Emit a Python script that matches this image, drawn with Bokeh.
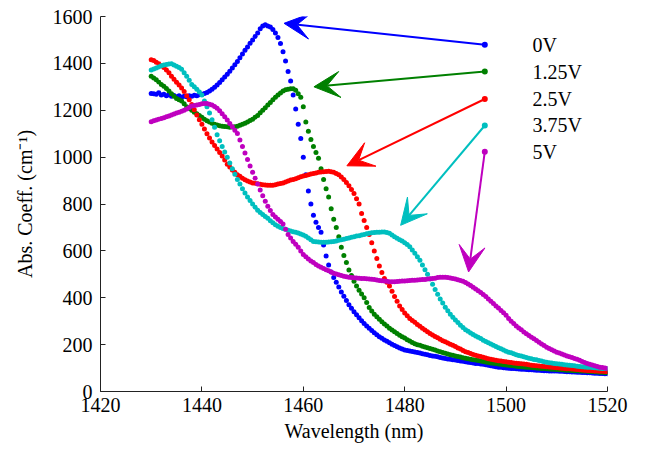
from bokeh.plotting import figure
from bokeh.models import Range1d, FixedTicker, Arrow, VeeHead
from bokeh.core.properties import value
from bokeh.embed import file_html
from bokeh.resources import INLINE

# ---------------- data ----------------
wavelength = [1430 + 0.5 * i for i in range(181)]  # nm, 0.5 nm sampling 1430..1520

abs_0V = [
    1272, 1270, 1268, 1275, 1265, 1268, 1262, 1266, 1260, 1263,
    1258, 1262, 1256, 1260, 1258, 1262, 1260, 1264, 1262, 1266,
    1268, 1272, 1276, 1282, 1290, 1298, 1308, 1318, 1330, 1342,
    1354, 1366, 1380, 1394, 1408, 1424, 1440, 1456, 1470, 1486,
    1500, 1515, 1530, 1548, 1560, 1565, 1560, 1555, 1545, 1530,
    1510, 1485, 1450, 1410, 1365, 1325, 1265, 1205, 1140, 1080,
    1000, 925, 855, 800, 752, 722, 700, 680, 625, 578,
    540, 510, 486, 466, 446, 425, 406, 388, 370, 355,
    340, 327, 315, 302, 290, 280, 270, 260, 251, 242,
    234, 227, 220, 214, 208, 202, 196, 191, 186, 181,
    177, 175, 173, 171, 169, 166, 164, 161, 159, 157,
    154, 152, 150, 148, 145, 143, 141, 139, 138, 136,
    134, 132, 130, 129, 127, 125, 124, 122, 120, 119,
    117, 116, 114, 112, 110, 108, 106, 104, 103, 101,
    100, 99, 98, 98, 97, 96, 95, 95, 94, 93,
    93, 92, 91, 91, 90, 89, 89, 88, 88, 87,
    87, 86, 86, 85, 84, 84, 83, 83, 82, 82,
    81, 81, 80, 80, 79, 78, 78, 77, 77, 76,
    76]

abs_125V = [
    1345, 1338, 1330, 1320, 1310, 1302, 1293, 1282, 1270, 1260,
    1250, 1245, 1240, 1228, 1215, 1208, 1200, 1192, 1185, 1178,
    1170, 1162, 1155, 1150, 1145, 1140, 1137, 1134, 1132, 1131,
    1130, 1128, 1129, 1130, 1132, 1136, 1140, 1145, 1150, 1156,
    1162, 1170, 1178, 1189, 1200, 1211, 1222, 1233, 1245, 1255,
    1265, 1274, 1282, 1287, 1290, 1292, 1292, 1285, 1270, 1255,
    1215, 1150, 1110, 1075, 1045, 1020, 995, 950, 905, 865,
    830, 780, 735, 700, 660, 615, 580, 550, 518, 495,
    470, 450, 432, 416, 400, 380, 358, 344, 330, 319,
    308, 298, 288, 279, 270, 262, 255, 247, 240, 234,
    228, 221, 215, 209, 204, 200, 197, 193, 190, 187,
    184, 180, 177, 173, 170, 166, 163, 160, 157, 155,
    152, 149, 147, 144, 142, 140, 138, 136, 134, 132,
    130, 128, 126, 124, 122, 121, 119, 117, 116, 114,
    113, 112, 111, 110, 108, 107, 106, 105, 104, 103,
    102, 101, 100, 99, 98, 98, 97, 96, 95, 95,
    94, 93, 93, 92, 91, 91, 90, 89, 89, 88,
    87, 87, 86, 85, 85, 84, 83, 82, 82, 81,
    80]

abs_25V = [
    1415, 1412, 1405, 1398, 1390, 1382, 1372, 1360, 1345, 1332,
    1320, 1308, 1295, 1280, 1262, 1245, 1225, 1202, 1180, 1160,
    1140, 1120, 1100, 1082, 1065, 1050, 1035, 1020, 1005, 988,
    970, 958, 945, 935, 925, 918, 910, 904, 898, 894,
    890, 888, 886, 884, 882, 881, 880, 880, 880, 882,
    885, 887, 890, 894, 898, 902, 905, 908, 912, 916,
    920, 922, 925, 928, 930, 932, 935, 937, 938, 939,
    940, 938, 935, 930, 925, 915, 905, 892, 878, 862,
    845, 822, 800, 760, 730, 700, 670, 635, 600, 568,
    535, 508, 482, 466, 450, 428, 405, 385, 365, 350,
    335, 323, 312, 303, 295, 286, 278, 270, 262, 255,
    248, 241, 235, 229, 223, 217, 212, 207, 202, 197,
    192, 186, 181, 175, 170, 166, 162, 158, 155, 152,
    149, 146, 143, 140, 138, 135, 133, 131, 130, 128,
    127, 125, 124, 122, 121, 120, 118, 117, 116, 114,
    112, 111, 110, 109, 108, 107, 106, 105, 104, 102,
    101, 100, 99, 98, 97, 97, 96, 95, 94, 93,
    92, 91, 90, 90, 89, 88, 87, 86, 86, 85,
    84]

abs_375V = [
    1372, 1376, 1380, 1385, 1390, 1393, 1395, 1397, 1398, 1393,
    1388, 1382, 1375, 1360, 1345, 1328, 1310, 1300, 1290, 1278,
    1265, 1240, 1215, 1188, 1160, 1128, 1095, 1070, 1045, 1022,
    1000, 975, 950, 927, 905, 885, 865, 847, 830, 815,
    800, 786, 773, 764, 755, 747, 739, 729, 720, 712,
    705, 700, 696, 692, 688, 685, 682, 679, 676, 672,
    668, 662, 655, 648, 640, 639, 638, 637, 637, 637,
    638, 639, 640, 642, 645, 648, 650, 653, 655, 658,
    660, 663, 665, 668, 670, 673, 675, 677, 678, 679,
    680, 681, 681, 678, 675, 668, 660, 654, 648, 642,
    635, 627, 618, 604, 590, 575, 560, 540, 520, 500,
    480, 458, 435, 415, 395, 378, 360, 345, 330, 317,
    305, 294, 283, 273, 264, 257, 250, 243, 237, 231,
    226, 219, 213, 208, 203, 197, 192, 187, 182, 177,
    172, 168, 165, 161, 157, 154, 151, 148, 145, 142,
    140, 137, 135, 132, 130, 127, 125, 123, 122, 120,
    118, 117, 116, 114, 113, 112, 111, 110, 108, 107,
    106, 105, 104, 103, 102, 101, 100, 99, 98, 98,
    97]

abs_5V = [
    1151, 1155, 1158, 1162, 1165, 1168, 1172, 1176, 1180, 1184,
    1188, 1192, 1196, 1200, 1205, 1212, 1218, 1220, 1222, 1225,
    1228, 1229, 1229, 1226, 1222, 1216, 1209, 1198, 1185, 1172,
    1158, 1144, 1130, 1115, 1101, 1073, 1045, 1018, 990, 962,
    935, 910, 885, 860, 835, 812, 790, 772, 755, 745,
    735, 725, 715, 692, 670, 655, 640, 628, 615, 600,
    585, 575, 565, 557, 550, 542, 535, 530, 525, 520,
    515, 510, 505, 501, 498, 495, 492, 490, 488, 486,
    485, 484, 483, 482, 482, 481, 480, 479, 478, 476,
    474, 473, 472, 470, 468, 468, 468, 469, 470, 471,
    472, 473, 474, 475, 475, 476, 477, 478, 478, 480,
    481, 482, 483, 486, 488, 488, 488, 486, 484, 482,
    480, 477, 474, 470, 465, 459, 452, 445, 437, 430,
    422, 414, 405, 395, 385, 375, 365, 356, 346, 336,
    325, 312, 300, 290, 280, 271, 263, 254, 246, 239,
    232, 225, 218, 210, 203, 196, 189, 183, 178, 173,
    168, 164, 160, 156, 152, 148, 145, 141, 138, 133,
    128, 124, 120, 116, 113, 110, 107, 104, 102, 100,
    98]

voltages = ["0V", "1.25V", "2.5V", "3.75V", "5V"]
colors = ["#0000FF", "#008000", "#FF0000", "#00BFBF", "#BF00BF"]
series = [abs_0V, abs_125V, abs_25V, abs_375V, abs_5V]

# arrow annotations (data coordinates)
arrow_tail_x = [1495.8, 1495.8, 1495.8, 1495.8, 1495.8]
arrow_tail_y = [1479, 1365, 1248, 1135, 1023]
arrow_tip_x = [1456.2, 1462.1, 1468.6, 1479.2, 1492.6]
arrow_tip_y = [1571, 1300, 963, 709, 510]
label_x = 1505.2

x_ticks = [1420, 1440, 1460, 1480, 1500, 1520]
y_ticks = [0, 200, 400, 600, 800, 1000, 1200, 1400, 1600]

# ---------------- figure ----------------
FONT = "Liberation Serif"

p = figure(width=638, height=449, output_backend="svg", toolbar_location=None,
           x_range=Range1d(1420, 1520), y_range=Range1d(0, 1600),
           min_border_left=100, min_border_right=31, min_border_top=16,
           min_border_bottom=58)
p.outline_line_color = None
p.grid.visible = False
p.background_fill_color = "white"
p.border_fill_color = "white"

for ax in (p.xaxis[0], p.yaxis[0]):
    ax.major_tick_in = 5
    ax.major_tick_out = 0
    ax.minor_tick_line_color = None
    ax.axis_line_color = "#222222"
    ax.major_tick_line_color = "#222222"
    ax.major_label_text_font = FONT
    ax.major_label_text_font_size = "20px"
    ax.major_label_text_color = "black"
    ax.axis_label_text_font = FONT
    ax.axis_label_text_font_size = "20px"
    ax.axis_label_text_font_style = "normal"
    ax.axis_label_text_color = "black"

p.xaxis[0].ticker = FixedTicker(ticks=x_ticks)
p.yaxis[0].ticker = FixedTicker(ticks=y_ticks)
p.xaxis[0].axis_label = "Wavelength (nm)"
p.yaxis[0].axis_label = "Abs. Coeff. (cm\u207b\u00b9)"
p.xaxis[0].major_label_standoff = 6
p.xaxis[0].axis_label_standoff = 5
p.yaxis[0].major_label_standoff = 8
p.yaxis[0].axis_label_standoff = 14

for ys, c in zip(series, colors):
    p.scatter(wavelength, ys, size=5, color=c, line_color=None)

for i, c in enumerate(colors):
    p.add_layout(Arrow(end=VeeHead(size=26, fill_color=c, line_color=c, line_width=1),
                       x_start=arrow_tail_x[i], y_start=arrow_tail_y[i],
                       x_end=arrow_tip_x[i], y_end=arrow_tip_y[i],
                       line_color=c, line_width=2))

p.scatter(arrow_tail_x, arrow_tail_y, size=6, color=colors, line_color=None)

p.text(x=[label_x] * len(voltages), y=arrow_tail_y, text=voltages,
       text_font=value(FONT), text_font_size="20px", text_color="black",
       text_baseline="middle", text_align="left")

open("out.html", "w").write(file_html(p, INLINE))
